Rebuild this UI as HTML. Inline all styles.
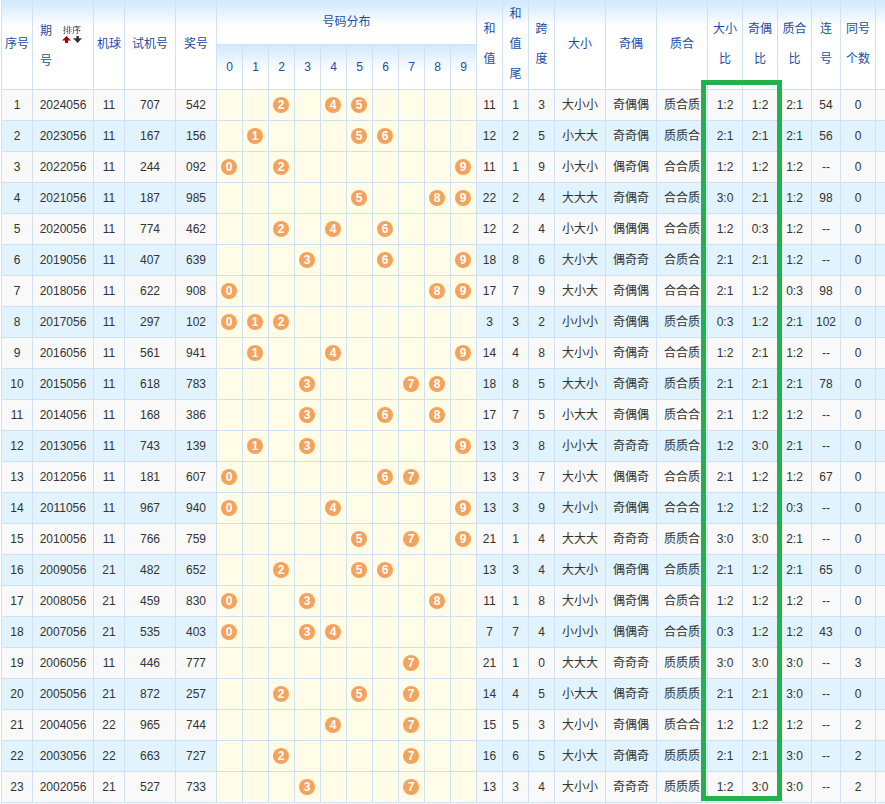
<!DOCTYPE html><html><head><meta charset="utf-8"><title>试机号</title><style>*{margin:0;padding:0;box-sizing:border-box}html,body{width:885px;height:804px;overflow:hidden;background:#fff}body{position:relative;font-family:"Liberation Sans","Noto Sans CJK SC",sans-serif;font-size:12px;color:#333}.c{position:absolute;text-align:center;white-space:nowrap}.h{position:absolute;text-align:center;color:#1a4ea6;line-height:30px;white-space:nowrap}.bg{position:absolute}.l{position:absolute;background:#cfe1f3}.g{position:absolute;background:linear-gradient(#d4eafd 0,#d4eafd 2px,#fff 27px,#fff)}.b{position:absolute;width:16px;height:16px;border-radius:8px;background:#f4a25c;color:#fff;font-weight:bold;text-align:center;line-height:16px;font-size:12px}</style></head><body><div class="g" style="left:2px;top:0;width:30px;height:89px"></div><div class="g" style="left:33px;top:0;width:60px;height:89px"></div><div class="g" style="left:94px;top:0;width:30px;height:89px"></div><div class="g" style="left:125px;top:0;width:50px;height:89px"></div><div class="g" style="left:176px;top:0;width:40px;height:89px"></div><div class="g" style="left:477px;top:0;width:25px;height:89px"></div><div class="g" style="left:503px;top:0;width:25px;height:89px"></div><div class="g" style="left:529px;top:0;width:25px;height:89px"></div><div class="g" style="left:555px;top:0;width:50px;height:89px"></div><div class="g" style="left:606px;top:0;width:50px;height:89px"></div><div class="g" style="left:657px;top:0;width:50px;height:89px"></div><div class="g" style="left:708px;top:0;width:34px;height:89px"></div><div class="g" style="left:743px;top:0;width:34px;height:89px"></div><div class="g" style="left:778px;top:0;width:33px;height:89px"></div><div class="g" style="left:812px;top:0;width:28px;height:89px"></div><div class="g" style="left:841px;top:0;width:34px;height:89px"></div><div class="g" style="left:876px;top:0;width:44px;height:89px"></div><div class="g" style="left:217px;top:0;width:259px;height:44px"></div><div class="g" style="left:217px;top:45px;width:25px;height:44px"></div><div class="g" style="left:243px;top:45px;width:25px;height:44px"></div><div class="g" style="left:269px;top:45px;width:25px;height:44px"></div><div class="g" style="left:295px;top:45px;width:25px;height:44px"></div><div class="g" style="left:321px;top:45px;width:25px;height:44px"></div><div class="g" style="left:347px;top:45px;width:25px;height:44px"></div><div class="g" style="left:373px;top:45px;width:25px;height:44px"></div><div class="g" style="left:399px;top:45px;width:25px;height:44px"></div><div class="g" style="left:425px;top:45px;width:25px;height:44px"></div><div class="g" style="left:451px;top:45px;width:25px;height:44px"></div><div class="bg" style="left:2px;top:90px;width:883px;height:30px;background:#f9f9f9"></div><div class="bg" style="left:217px;top:90px;width:259px;height:30px;background:#fffce8"></div><div class="bg" style="left:2px;top:121px;width:883px;height:30px;background:#e1f3fe"></div><div class="bg" style="left:217px;top:121px;width:259px;height:30px;background:#fffce8"></div><div class="bg" style="left:2px;top:152px;width:883px;height:30px;background:#f9f9f9"></div><div class="bg" style="left:217px;top:152px;width:259px;height:30px;background:#fffce8"></div><div class="bg" style="left:2px;top:183px;width:883px;height:30px;background:#e1f3fe"></div><div class="bg" style="left:217px;top:183px;width:259px;height:30px;background:#fffce8"></div><div class="bg" style="left:2px;top:214px;width:883px;height:30px;background:#f9f9f9"></div><div class="bg" style="left:217px;top:214px;width:259px;height:30px;background:#fffce8"></div><div class="bg" style="left:2px;top:245px;width:883px;height:30px;background:#e1f3fe"></div><div class="bg" style="left:217px;top:245px;width:259px;height:30px;background:#fffce8"></div><div class="bg" style="left:2px;top:276px;width:883px;height:30px;background:#f9f9f9"></div><div class="bg" style="left:217px;top:276px;width:259px;height:30px;background:#fffce8"></div><div class="bg" style="left:2px;top:307px;width:883px;height:30px;background:#e1f3fe"></div><div class="bg" style="left:217px;top:307px;width:259px;height:30px;background:#fffce8"></div><div class="bg" style="left:2px;top:338px;width:883px;height:30px;background:#f9f9f9"></div><div class="bg" style="left:217px;top:338px;width:259px;height:30px;background:#fffce8"></div><div class="bg" style="left:2px;top:369px;width:883px;height:30px;background:#e1f3fe"></div><div class="bg" style="left:217px;top:369px;width:259px;height:30px;background:#fffce8"></div><div class="bg" style="left:2px;top:400px;width:883px;height:30px;background:#f9f9f9"></div><div class="bg" style="left:217px;top:400px;width:259px;height:30px;background:#fffce8"></div><div class="bg" style="left:2px;top:431px;width:883px;height:30px;background:#e1f3fe"></div><div class="bg" style="left:217px;top:431px;width:259px;height:30px;background:#fffce8"></div><div class="bg" style="left:2px;top:462px;width:883px;height:30px;background:#f9f9f9"></div><div class="bg" style="left:217px;top:462px;width:259px;height:30px;background:#fffce8"></div><div class="bg" style="left:2px;top:493px;width:883px;height:30px;background:#e1f3fe"></div><div class="bg" style="left:217px;top:493px;width:259px;height:30px;background:#fffce8"></div><div class="bg" style="left:2px;top:524px;width:883px;height:30px;background:#f9f9f9"></div><div class="bg" style="left:217px;top:524px;width:259px;height:30px;background:#fffce8"></div><div class="bg" style="left:2px;top:555px;width:883px;height:30px;background:#e1f3fe"></div><div class="bg" style="left:217px;top:555px;width:259px;height:30px;background:#fffce8"></div><div class="bg" style="left:2px;top:586px;width:883px;height:30px;background:#f9f9f9"></div><div class="bg" style="left:217px;top:586px;width:259px;height:30px;background:#fffce8"></div><div class="bg" style="left:2px;top:617px;width:883px;height:30px;background:#e1f3fe"></div><div class="bg" style="left:217px;top:617px;width:259px;height:30px;background:#fffce8"></div><div class="bg" style="left:2px;top:648px;width:883px;height:30px;background:#f9f9f9"></div><div class="bg" style="left:217px;top:648px;width:259px;height:30px;background:#fffce8"></div><div class="bg" style="left:2px;top:679px;width:883px;height:30px;background:#e1f3fe"></div><div class="bg" style="left:217px;top:679px;width:259px;height:30px;background:#fffce8"></div><div class="bg" style="left:2px;top:710px;width:883px;height:30px;background:#f9f9f9"></div><div class="bg" style="left:217px;top:710px;width:259px;height:30px;background:#fffce8"></div><div class="bg" style="left:2px;top:741px;width:883px;height:30px;background:#e1f3fe"></div><div class="bg" style="left:217px;top:741px;width:259px;height:30px;background:#fffce8"></div><div class="bg" style="left:2px;top:772px;width:883px;height:30px;background:#f9f9f9"></div><div class="bg" style="left:217px;top:772px;width:259px;height:30px;background:#fffce8"></div><div class="bg" style="left:2px;top:803px;width:883px;height:30px;background:#fafafa"></div><div class="l" style="left:1px;top:0px;width:1px;height:804px"></div><div class="l" style="left:32px;top:0px;width:1px;height:803px"></div><div class="l" style="left:93px;top:0px;width:1px;height:803px"></div><div class="l" style="left:124px;top:0px;width:1px;height:803px"></div><div class="l" style="left:175px;top:0px;width:1px;height:803px"></div><div class="l" style="left:216px;top:0px;width:1px;height:803px"></div><div class="l" style="left:242px;top:44px;width:1px;height:759px"></div><div class="l" style="left:268px;top:44px;width:1px;height:759px"></div><div class="l" style="left:294px;top:44px;width:1px;height:759px"></div><div class="l" style="left:320px;top:44px;width:1px;height:759px"></div><div class="l" style="left:346px;top:44px;width:1px;height:759px"></div><div class="l" style="left:372px;top:44px;width:1px;height:759px"></div><div class="l" style="left:398px;top:44px;width:1px;height:759px"></div><div class="l" style="left:424px;top:44px;width:1px;height:759px"></div><div class="l" style="left:450px;top:44px;width:1px;height:759px"></div><div class="l" style="left:476px;top:0px;width:1px;height:803px"></div><div class="l" style="left:502px;top:0px;width:1px;height:803px"></div><div class="l" style="left:528px;top:0px;width:1px;height:803px"></div><div class="l" style="left:554px;top:0px;width:1px;height:803px"></div><div class="l" style="left:605px;top:0px;width:1px;height:803px"></div><div class="l" style="left:656px;top:0px;width:1px;height:803px"></div><div class="l" style="left:707px;top:0px;width:1px;height:803px"></div><div class="l" style="left:742px;top:0px;width:1px;height:803px"></div><div class="l" style="left:777px;top:0px;width:1px;height:803px"></div><div class="l" style="left:811px;top:0px;width:1px;height:803px"></div><div class="l" style="left:840px;top:0px;width:1px;height:803px"></div><div class="l" style="left:875px;top:0px;width:1px;height:803px"></div><div class="l" style="left:216px;top:44px;width:260px;height:1px"></div><div class="l" style="left:1px;top:89px;width:885px;height:1px"></div><div class="l" style="left:1px;top:120px;width:885px;height:1px"></div><div class="l" style="left:1px;top:151px;width:885px;height:1px"></div><div class="l" style="left:1px;top:182px;width:885px;height:1px"></div><div class="l" style="left:1px;top:213px;width:885px;height:1px"></div><div class="l" style="left:1px;top:244px;width:885px;height:1px"></div><div class="l" style="left:1px;top:275px;width:885px;height:1px"></div><div class="l" style="left:1px;top:306px;width:885px;height:1px"></div><div class="l" style="left:1px;top:337px;width:885px;height:1px"></div><div class="l" style="left:1px;top:368px;width:885px;height:1px"></div><div class="l" style="left:1px;top:399px;width:885px;height:1px"></div><div class="l" style="left:1px;top:430px;width:885px;height:1px"></div><div class="l" style="left:1px;top:461px;width:885px;height:1px"></div><div class="l" style="left:1px;top:492px;width:885px;height:1px"></div><div class="l" style="left:1px;top:523px;width:885px;height:1px"></div><div class="l" style="left:1px;top:554px;width:885px;height:1px"></div><div class="l" style="left:1px;top:585px;width:885px;height:1px"></div><div class="l" style="left:1px;top:616px;width:885px;height:1px"></div><div class="l" style="left:1px;top:647px;width:885px;height:1px"></div><div class="l" style="left:1px;top:678px;width:885px;height:1px"></div><div class="l" style="left:1px;top:709px;width:885px;height:1px"></div><div class="l" style="left:1px;top:740px;width:885px;height:1px"></div><div class="l" style="left:1px;top:771px;width:885px;height:1px"></div><div class="l" style="left:1px;top:802px;width:885px;height:1px"></div><div class="h" style="left:2px;top:29px;width:30px">序号</div><div class="h" style="left:40px;top:15.5px;width:14px;text-align:left">期<br>号</div><div style="position:absolute;left:62px;top:25px;width:20px;height:11px;background:#fff;font-family:'WenQuanYi Zen Hei',sans-serif;font-size:9px;line-height:11px;color:#333;text-align:center">排序</div><svg style="position:absolute;left:61px;top:35px" width="22" height="9" viewBox="0 0 22 9"><path d="M5.5 0.9 L10 5.5 L7 5.5 L7 7.9 L4 7.9 L4 5.5 L1 5.5 Z" fill="#b30000"/><path d="M15.4 1 L17.9 1 L17.9 3.2 L21 3.2 L16.6 7.9 L12 3.2 L15.4 3.2 Z" fill="#333"/></svg><div class="h" style="left:94px;top:29px;width:30px">机球</div><div class="h" style="left:125px;top:29px;width:50px">试机号</div><div class="h" style="left:176px;top:29px;width:40px">奖号</div><div class="h" style="left:217px;top:7px;width:259px">号码分布</div><div class="h" style="left:217px;top:52px;width:25px">0</div><div class="h" style="left:243px;top:52px;width:25px">1</div><div class="h" style="left:269px;top:52px;width:25px">2</div><div class="h" style="left:295px;top:52px;width:25px">3</div><div class="h" style="left:321px;top:52px;width:25px">4</div><div class="h" style="left:347px;top:52px;width:25px">5</div><div class="h" style="left:373px;top:52px;width:25px">6</div><div class="h" style="left:399px;top:52px;width:25px">7</div><div class="h" style="left:425px;top:52px;width:25px">8</div><div class="h" style="left:451px;top:52px;width:25px">9</div><div class="h" style="left:477px;top:14px;width:25px">和<br>值</div><div class="h" style="left:503px;top:-1px;width:25px">和<br>值<br>尾</div><div class="h" style="left:529px;top:14px;width:25px">跨<br>度</div><div class="h" style="left:555px;top:29px;width:50px">大小</div><div class="h" style="left:606px;top:29px;width:50px">奇偶</div><div class="h" style="left:657px;top:29px;width:50px">质合</div><div class="h" style="left:708px;top:14px;width:34px">大小<br>比</div><div class="h" style="left:743px;top:14px;width:34px">奇偶<br>比</div><div class="h" style="left:778px;top:14px;width:33px">质合<br>比</div><div class="h" style="left:812px;top:14px;width:28px">连<br>号</div><div class="h" style="left:841px;top:14px;width:34px">同号<br>个数</div><div class="c" style="left:2px;top:90px;width:30px;line-height:30px">1</div><div class="c" style="left:33px;top:90px;width:60px;line-height:30px">2024056</div><div class="c" style="left:94px;top:90px;width:30px;line-height:30px">11</div><div class="c" style="left:125px;top:90px;width:50px;line-height:30px">707</div><div class="c" style="left:176px;top:90px;width:40px;line-height:30px">542</div><div class="c" style="left:477px;top:90px;width:25px;line-height:30px">11</div><div class="c" style="left:503px;top:90px;width:25px;line-height:30px">1</div><div class="c" style="left:529px;top:90px;width:25px;line-height:30px">3</div><div class="c" style="left:555px;top:90px;width:50px;line-height:30px">大小小</div><div class="c" style="left:606px;top:90px;width:50px;line-height:30px">奇偶偶</div><div class="c" style="left:657px;top:90px;width:50px;line-height:30px">质合质</div><div class="c" style="left:708px;top:90px;width:34px;line-height:30px">1:2</div><div class="c" style="left:743px;top:90px;width:34px;line-height:30px">1:2</div><div class="c" style="left:778px;top:90px;width:33px;line-height:30px">2:1</div><div class="c" style="left:812px;top:90px;width:28px;line-height:30px">54</div><div class="c" style="left:841px;top:90px;width:34px;line-height:30px">0</div><div class="b" style="left:273px;top:97px">2</div><div class="b" style="left:325px;top:97px">4</div><div class="b" style="left:351px;top:97px">5</div><div class="c" style="left:2px;top:121px;width:30px;line-height:30px">2</div><div class="c" style="left:33px;top:121px;width:60px;line-height:30px">2023056</div><div class="c" style="left:94px;top:121px;width:30px;line-height:30px">11</div><div class="c" style="left:125px;top:121px;width:50px;line-height:30px">167</div><div class="c" style="left:176px;top:121px;width:40px;line-height:30px">156</div><div class="c" style="left:477px;top:121px;width:25px;line-height:30px">12</div><div class="c" style="left:503px;top:121px;width:25px;line-height:30px">2</div><div class="c" style="left:529px;top:121px;width:25px;line-height:30px">5</div><div class="c" style="left:555px;top:121px;width:50px;line-height:30px">小大大</div><div class="c" style="left:606px;top:121px;width:50px;line-height:30px">奇奇偶</div><div class="c" style="left:657px;top:121px;width:50px;line-height:30px">质质合</div><div class="c" style="left:708px;top:121px;width:34px;line-height:30px">2:1</div><div class="c" style="left:743px;top:121px;width:34px;line-height:30px">2:1</div><div class="c" style="left:778px;top:121px;width:33px;line-height:30px">2:1</div><div class="c" style="left:812px;top:121px;width:28px;line-height:30px">56</div><div class="c" style="left:841px;top:121px;width:34px;line-height:30px">0</div><div class="b" style="left:247px;top:128px">1</div><div class="b" style="left:351px;top:128px">5</div><div class="b" style="left:377px;top:128px">6</div><div class="c" style="left:2px;top:152px;width:30px;line-height:30px">3</div><div class="c" style="left:33px;top:152px;width:60px;line-height:30px">2022056</div><div class="c" style="left:94px;top:152px;width:30px;line-height:30px">11</div><div class="c" style="left:125px;top:152px;width:50px;line-height:30px">244</div><div class="c" style="left:176px;top:152px;width:40px;line-height:30px">092</div><div class="c" style="left:477px;top:152px;width:25px;line-height:30px">11</div><div class="c" style="left:503px;top:152px;width:25px;line-height:30px">1</div><div class="c" style="left:529px;top:152px;width:25px;line-height:30px">9</div><div class="c" style="left:555px;top:152px;width:50px;line-height:30px">小大小</div><div class="c" style="left:606px;top:152px;width:50px;line-height:30px">偶奇偶</div><div class="c" style="left:657px;top:152px;width:50px;line-height:30px">合合质</div><div class="c" style="left:708px;top:152px;width:34px;line-height:30px">1:2</div><div class="c" style="left:743px;top:152px;width:34px;line-height:30px">1:2</div><div class="c" style="left:778px;top:152px;width:33px;line-height:30px">1:2</div><div class="c" style="left:812px;top:152px;width:28px;line-height:30px">--</div><div class="c" style="left:841px;top:152px;width:34px;line-height:30px">0</div><div class="b" style="left:221px;top:159px">0</div><div class="b" style="left:273px;top:159px">2</div><div class="b" style="left:455px;top:159px">9</div><div class="c" style="left:2px;top:183px;width:30px;line-height:30px">4</div><div class="c" style="left:33px;top:183px;width:60px;line-height:30px">2021056</div><div class="c" style="left:94px;top:183px;width:30px;line-height:30px">11</div><div class="c" style="left:125px;top:183px;width:50px;line-height:30px">187</div><div class="c" style="left:176px;top:183px;width:40px;line-height:30px">985</div><div class="c" style="left:477px;top:183px;width:25px;line-height:30px">22</div><div class="c" style="left:503px;top:183px;width:25px;line-height:30px">2</div><div class="c" style="left:529px;top:183px;width:25px;line-height:30px">4</div><div class="c" style="left:555px;top:183px;width:50px;line-height:30px">大大大</div><div class="c" style="left:606px;top:183px;width:50px;line-height:30px">奇偶奇</div><div class="c" style="left:657px;top:183px;width:50px;line-height:30px">合合质</div><div class="c" style="left:708px;top:183px;width:34px;line-height:30px">3:0</div><div class="c" style="left:743px;top:183px;width:34px;line-height:30px">2:1</div><div class="c" style="left:778px;top:183px;width:33px;line-height:30px">1:2</div><div class="c" style="left:812px;top:183px;width:28px;line-height:30px">98</div><div class="c" style="left:841px;top:183px;width:34px;line-height:30px">0</div><div class="b" style="left:351px;top:190px">5</div><div class="b" style="left:429px;top:190px">8</div><div class="b" style="left:455px;top:190px">9</div><div class="c" style="left:2px;top:214px;width:30px;line-height:30px">5</div><div class="c" style="left:33px;top:214px;width:60px;line-height:30px">2020056</div><div class="c" style="left:94px;top:214px;width:30px;line-height:30px">11</div><div class="c" style="left:125px;top:214px;width:50px;line-height:30px">774</div><div class="c" style="left:176px;top:214px;width:40px;line-height:30px">462</div><div class="c" style="left:477px;top:214px;width:25px;line-height:30px">12</div><div class="c" style="left:503px;top:214px;width:25px;line-height:30px">2</div><div class="c" style="left:529px;top:214px;width:25px;line-height:30px">4</div><div class="c" style="left:555px;top:214px;width:50px;line-height:30px">小大小</div><div class="c" style="left:606px;top:214px;width:50px;line-height:30px">偶偶偶</div><div class="c" style="left:657px;top:214px;width:50px;line-height:30px">合合质</div><div class="c" style="left:708px;top:214px;width:34px;line-height:30px">1:2</div><div class="c" style="left:743px;top:214px;width:34px;line-height:30px">0:3</div><div class="c" style="left:778px;top:214px;width:33px;line-height:30px">1:2</div><div class="c" style="left:812px;top:214px;width:28px;line-height:30px">--</div><div class="c" style="left:841px;top:214px;width:34px;line-height:30px">0</div><div class="b" style="left:273px;top:221px">2</div><div class="b" style="left:325px;top:221px">4</div><div class="b" style="left:377px;top:221px">6</div><div class="c" style="left:2px;top:245px;width:30px;line-height:30px">6</div><div class="c" style="left:33px;top:245px;width:60px;line-height:30px">2019056</div><div class="c" style="left:94px;top:245px;width:30px;line-height:30px">11</div><div class="c" style="left:125px;top:245px;width:50px;line-height:30px">407</div><div class="c" style="left:176px;top:245px;width:40px;line-height:30px">639</div><div class="c" style="left:477px;top:245px;width:25px;line-height:30px">18</div><div class="c" style="left:503px;top:245px;width:25px;line-height:30px">8</div><div class="c" style="left:529px;top:245px;width:25px;line-height:30px">6</div><div class="c" style="left:555px;top:245px;width:50px;line-height:30px">大小大</div><div class="c" style="left:606px;top:245px;width:50px;line-height:30px">偶奇奇</div><div class="c" style="left:657px;top:245px;width:50px;line-height:30px">合质合</div><div class="c" style="left:708px;top:245px;width:34px;line-height:30px">2:1</div><div class="c" style="left:743px;top:245px;width:34px;line-height:30px">2:1</div><div class="c" style="left:778px;top:245px;width:33px;line-height:30px">1:2</div><div class="c" style="left:812px;top:245px;width:28px;line-height:30px">--</div><div class="c" style="left:841px;top:245px;width:34px;line-height:30px">0</div><div class="b" style="left:299px;top:252px">3</div><div class="b" style="left:377px;top:252px">6</div><div class="b" style="left:455px;top:252px">9</div><div class="c" style="left:2px;top:276px;width:30px;line-height:30px">7</div><div class="c" style="left:33px;top:276px;width:60px;line-height:30px">2018056</div><div class="c" style="left:94px;top:276px;width:30px;line-height:30px">11</div><div class="c" style="left:125px;top:276px;width:50px;line-height:30px">622</div><div class="c" style="left:176px;top:276px;width:40px;line-height:30px">908</div><div class="c" style="left:477px;top:276px;width:25px;line-height:30px">17</div><div class="c" style="left:503px;top:276px;width:25px;line-height:30px">7</div><div class="c" style="left:529px;top:276px;width:25px;line-height:30px">9</div><div class="c" style="left:555px;top:276px;width:50px;line-height:30px">大小大</div><div class="c" style="left:606px;top:276px;width:50px;line-height:30px">奇偶偶</div><div class="c" style="left:657px;top:276px;width:50px;line-height:30px">合合合</div><div class="c" style="left:708px;top:276px;width:34px;line-height:30px">2:1</div><div class="c" style="left:743px;top:276px;width:34px;line-height:30px">1:2</div><div class="c" style="left:778px;top:276px;width:33px;line-height:30px">0:3</div><div class="c" style="left:812px;top:276px;width:28px;line-height:30px">98</div><div class="c" style="left:841px;top:276px;width:34px;line-height:30px">0</div><div class="b" style="left:221px;top:283px">0</div><div class="b" style="left:429px;top:283px">8</div><div class="b" style="left:455px;top:283px">9</div><div class="c" style="left:2px;top:307px;width:30px;line-height:30px">8</div><div class="c" style="left:33px;top:307px;width:60px;line-height:30px">2017056</div><div class="c" style="left:94px;top:307px;width:30px;line-height:30px">11</div><div class="c" style="left:125px;top:307px;width:50px;line-height:30px">297</div><div class="c" style="left:176px;top:307px;width:40px;line-height:30px">102</div><div class="c" style="left:477px;top:307px;width:25px;line-height:30px">3</div><div class="c" style="left:503px;top:307px;width:25px;line-height:30px">3</div><div class="c" style="left:529px;top:307px;width:25px;line-height:30px">2</div><div class="c" style="left:555px;top:307px;width:50px;line-height:30px">小小小</div><div class="c" style="left:606px;top:307px;width:50px;line-height:30px">奇偶偶</div><div class="c" style="left:657px;top:307px;width:50px;line-height:30px">质合质</div><div class="c" style="left:708px;top:307px;width:34px;line-height:30px">0:3</div><div class="c" style="left:743px;top:307px;width:34px;line-height:30px">1:2</div><div class="c" style="left:778px;top:307px;width:33px;line-height:30px">2:1</div><div class="c" style="left:812px;top:307px;width:28px;line-height:30px">102</div><div class="c" style="left:841px;top:307px;width:34px;line-height:30px">0</div><div class="b" style="left:221px;top:314px">0</div><div class="b" style="left:247px;top:314px">1</div><div class="b" style="left:273px;top:314px">2</div><div class="c" style="left:2px;top:338px;width:30px;line-height:30px">9</div><div class="c" style="left:33px;top:338px;width:60px;line-height:30px">2016056</div><div class="c" style="left:94px;top:338px;width:30px;line-height:30px">11</div><div class="c" style="left:125px;top:338px;width:50px;line-height:30px">561</div><div class="c" style="left:176px;top:338px;width:40px;line-height:30px">941</div><div class="c" style="left:477px;top:338px;width:25px;line-height:30px">14</div><div class="c" style="left:503px;top:338px;width:25px;line-height:30px">4</div><div class="c" style="left:529px;top:338px;width:25px;line-height:30px">8</div><div class="c" style="left:555px;top:338px;width:50px;line-height:30px">大小小</div><div class="c" style="left:606px;top:338px;width:50px;line-height:30px">奇偶奇</div><div class="c" style="left:657px;top:338px;width:50px;line-height:30px">合合质</div><div class="c" style="left:708px;top:338px;width:34px;line-height:30px">1:2</div><div class="c" style="left:743px;top:338px;width:34px;line-height:30px">2:1</div><div class="c" style="left:778px;top:338px;width:33px;line-height:30px">1:2</div><div class="c" style="left:812px;top:338px;width:28px;line-height:30px">--</div><div class="c" style="left:841px;top:338px;width:34px;line-height:30px">0</div><div class="b" style="left:247px;top:345px">1</div><div class="b" style="left:325px;top:345px">4</div><div class="b" style="left:455px;top:345px">9</div><div class="c" style="left:2px;top:369px;width:30px;line-height:30px">10</div><div class="c" style="left:33px;top:369px;width:60px;line-height:30px">2015056</div><div class="c" style="left:94px;top:369px;width:30px;line-height:30px">11</div><div class="c" style="left:125px;top:369px;width:50px;line-height:30px">618</div><div class="c" style="left:176px;top:369px;width:40px;line-height:30px">783</div><div class="c" style="left:477px;top:369px;width:25px;line-height:30px">18</div><div class="c" style="left:503px;top:369px;width:25px;line-height:30px">8</div><div class="c" style="left:529px;top:369px;width:25px;line-height:30px">5</div><div class="c" style="left:555px;top:369px;width:50px;line-height:30px">大大小</div><div class="c" style="left:606px;top:369px;width:50px;line-height:30px">奇偶奇</div><div class="c" style="left:657px;top:369px;width:50px;line-height:30px">质合质</div><div class="c" style="left:708px;top:369px;width:34px;line-height:30px">2:1</div><div class="c" style="left:743px;top:369px;width:34px;line-height:30px">2:1</div><div class="c" style="left:778px;top:369px;width:33px;line-height:30px">2:1</div><div class="c" style="left:812px;top:369px;width:28px;line-height:30px">78</div><div class="c" style="left:841px;top:369px;width:34px;line-height:30px">0</div><div class="b" style="left:299px;top:376px">3</div><div class="b" style="left:403px;top:376px">7</div><div class="b" style="left:429px;top:376px">8</div><div class="c" style="left:2px;top:400px;width:30px;line-height:30px">11</div><div class="c" style="left:33px;top:400px;width:60px;line-height:30px">2014056</div><div class="c" style="left:94px;top:400px;width:30px;line-height:30px">11</div><div class="c" style="left:125px;top:400px;width:50px;line-height:30px">168</div><div class="c" style="left:176px;top:400px;width:40px;line-height:30px">386</div><div class="c" style="left:477px;top:400px;width:25px;line-height:30px">17</div><div class="c" style="left:503px;top:400px;width:25px;line-height:30px">7</div><div class="c" style="left:529px;top:400px;width:25px;line-height:30px">5</div><div class="c" style="left:555px;top:400px;width:50px;line-height:30px">小大大</div><div class="c" style="left:606px;top:400px;width:50px;line-height:30px">奇偶偶</div><div class="c" style="left:657px;top:400px;width:50px;line-height:30px">质合合</div><div class="c" style="left:708px;top:400px;width:34px;line-height:30px">2:1</div><div class="c" style="left:743px;top:400px;width:34px;line-height:30px">1:2</div><div class="c" style="left:778px;top:400px;width:33px;line-height:30px">1:2</div><div class="c" style="left:812px;top:400px;width:28px;line-height:30px">--</div><div class="c" style="left:841px;top:400px;width:34px;line-height:30px">0</div><div class="b" style="left:299px;top:407px">3</div><div class="b" style="left:377px;top:407px">6</div><div class="b" style="left:429px;top:407px">8</div><div class="c" style="left:2px;top:431px;width:30px;line-height:30px">12</div><div class="c" style="left:33px;top:431px;width:60px;line-height:30px">2013056</div><div class="c" style="left:94px;top:431px;width:30px;line-height:30px">11</div><div class="c" style="left:125px;top:431px;width:50px;line-height:30px">743</div><div class="c" style="left:176px;top:431px;width:40px;line-height:30px">139</div><div class="c" style="left:477px;top:431px;width:25px;line-height:30px">13</div><div class="c" style="left:503px;top:431px;width:25px;line-height:30px">3</div><div class="c" style="left:529px;top:431px;width:25px;line-height:30px">8</div><div class="c" style="left:555px;top:431px;width:50px;line-height:30px">小小大</div><div class="c" style="left:606px;top:431px;width:50px;line-height:30px">奇奇奇</div><div class="c" style="left:657px;top:431px;width:50px;line-height:30px">质质合</div><div class="c" style="left:708px;top:431px;width:34px;line-height:30px">1:2</div><div class="c" style="left:743px;top:431px;width:34px;line-height:30px">3:0</div><div class="c" style="left:778px;top:431px;width:33px;line-height:30px">2:1</div><div class="c" style="left:812px;top:431px;width:28px;line-height:30px">--</div><div class="c" style="left:841px;top:431px;width:34px;line-height:30px">0</div><div class="b" style="left:247px;top:438px">1</div><div class="b" style="left:299px;top:438px">3</div><div class="b" style="left:455px;top:438px">9</div><div class="c" style="left:2px;top:462px;width:30px;line-height:30px">13</div><div class="c" style="left:33px;top:462px;width:60px;line-height:30px">2012056</div><div class="c" style="left:94px;top:462px;width:30px;line-height:30px">11</div><div class="c" style="left:125px;top:462px;width:50px;line-height:30px">181</div><div class="c" style="left:176px;top:462px;width:40px;line-height:30px">607</div><div class="c" style="left:477px;top:462px;width:25px;line-height:30px">13</div><div class="c" style="left:503px;top:462px;width:25px;line-height:30px">3</div><div class="c" style="left:529px;top:462px;width:25px;line-height:30px">7</div><div class="c" style="left:555px;top:462px;width:50px;line-height:30px">大小大</div><div class="c" style="left:606px;top:462px;width:50px;line-height:30px">偶偶奇</div><div class="c" style="left:657px;top:462px;width:50px;line-height:30px">合合质</div><div class="c" style="left:708px;top:462px;width:34px;line-height:30px">2:1</div><div class="c" style="left:743px;top:462px;width:34px;line-height:30px">1:2</div><div class="c" style="left:778px;top:462px;width:33px;line-height:30px">1:2</div><div class="c" style="left:812px;top:462px;width:28px;line-height:30px">67</div><div class="c" style="left:841px;top:462px;width:34px;line-height:30px">0</div><div class="b" style="left:221px;top:469px">0</div><div class="b" style="left:377px;top:469px">6</div><div class="b" style="left:403px;top:469px">7</div><div class="c" style="left:2px;top:493px;width:30px;line-height:30px">14</div><div class="c" style="left:33px;top:493px;width:60px;line-height:30px">2011056</div><div class="c" style="left:94px;top:493px;width:30px;line-height:30px">11</div><div class="c" style="left:125px;top:493px;width:50px;line-height:30px">967</div><div class="c" style="left:176px;top:493px;width:40px;line-height:30px">940</div><div class="c" style="left:477px;top:493px;width:25px;line-height:30px">13</div><div class="c" style="left:503px;top:493px;width:25px;line-height:30px">3</div><div class="c" style="left:529px;top:493px;width:25px;line-height:30px">9</div><div class="c" style="left:555px;top:493px;width:50px;line-height:30px">大小小</div><div class="c" style="left:606px;top:493px;width:50px;line-height:30px">奇偶偶</div><div class="c" style="left:657px;top:493px;width:50px;line-height:30px">合合合</div><div class="c" style="left:708px;top:493px;width:34px;line-height:30px">1:2</div><div class="c" style="left:743px;top:493px;width:34px;line-height:30px">1:2</div><div class="c" style="left:778px;top:493px;width:33px;line-height:30px">0:3</div><div class="c" style="left:812px;top:493px;width:28px;line-height:30px">--</div><div class="c" style="left:841px;top:493px;width:34px;line-height:30px">0</div><div class="b" style="left:221px;top:500px">0</div><div class="b" style="left:325px;top:500px">4</div><div class="b" style="left:455px;top:500px">9</div><div class="c" style="left:2px;top:524px;width:30px;line-height:30px">15</div><div class="c" style="left:33px;top:524px;width:60px;line-height:30px">2010056</div><div class="c" style="left:94px;top:524px;width:30px;line-height:30px">11</div><div class="c" style="left:125px;top:524px;width:50px;line-height:30px">766</div><div class="c" style="left:176px;top:524px;width:40px;line-height:30px">759</div><div class="c" style="left:477px;top:524px;width:25px;line-height:30px">21</div><div class="c" style="left:503px;top:524px;width:25px;line-height:30px">1</div><div class="c" style="left:529px;top:524px;width:25px;line-height:30px">4</div><div class="c" style="left:555px;top:524px;width:50px;line-height:30px">大大大</div><div class="c" style="left:606px;top:524px;width:50px;line-height:30px">奇奇奇</div><div class="c" style="left:657px;top:524px;width:50px;line-height:30px">质质合</div><div class="c" style="left:708px;top:524px;width:34px;line-height:30px">3:0</div><div class="c" style="left:743px;top:524px;width:34px;line-height:30px">3:0</div><div class="c" style="left:778px;top:524px;width:33px;line-height:30px">2:1</div><div class="c" style="left:812px;top:524px;width:28px;line-height:30px">--</div><div class="c" style="left:841px;top:524px;width:34px;line-height:30px">0</div><div class="b" style="left:351px;top:531px">5</div><div class="b" style="left:403px;top:531px">7</div><div class="b" style="left:455px;top:531px">9</div><div class="c" style="left:2px;top:555px;width:30px;line-height:30px">16</div><div class="c" style="left:33px;top:555px;width:60px;line-height:30px">2009056</div><div class="c" style="left:94px;top:555px;width:30px;line-height:30px">21</div><div class="c" style="left:125px;top:555px;width:50px;line-height:30px">482</div><div class="c" style="left:176px;top:555px;width:40px;line-height:30px">652</div><div class="c" style="left:477px;top:555px;width:25px;line-height:30px">13</div><div class="c" style="left:503px;top:555px;width:25px;line-height:30px">3</div><div class="c" style="left:529px;top:555px;width:25px;line-height:30px">4</div><div class="c" style="left:555px;top:555px;width:50px;line-height:30px">大大小</div><div class="c" style="left:606px;top:555px;width:50px;line-height:30px">偶奇偶</div><div class="c" style="left:657px;top:555px;width:50px;line-height:30px">合质质</div><div class="c" style="left:708px;top:555px;width:34px;line-height:30px">2:1</div><div class="c" style="left:743px;top:555px;width:34px;line-height:30px">1:2</div><div class="c" style="left:778px;top:555px;width:33px;line-height:30px">2:1</div><div class="c" style="left:812px;top:555px;width:28px;line-height:30px">65</div><div class="c" style="left:841px;top:555px;width:34px;line-height:30px">0</div><div class="b" style="left:273px;top:562px">2</div><div class="b" style="left:351px;top:562px">5</div><div class="b" style="left:377px;top:562px">6</div><div class="c" style="left:2px;top:586px;width:30px;line-height:30px">17</div><div class="c" style="left:33px;top:586px;width:60px;line-height:30px">2008056</div><div class="c" style="left:94px;top:586px;width:30px;line-height:30px">21</div><div class="c" style="left:125px;top:586px;width:50px;line-height:30px">459</div><div class="c" style="left:176px;top:586px;width:40px;line-height:30px">830</div><div class="c" style="left:477px;top:586px;width:25px;line-height:30px">11</div><div class="c" style="left:503px;top:586px;width:25px;line-height:30px">1</div><div class="c" style="left:529px;top:586px;width:25px;line-height:30px">8</div><div class="c" style="left:555px;top:586px;width:50px;line-height:30px">大小小</div><div class="c" style="left:606px;top:586px;width:50px;line-height:30px">偶奇偶</div><div class="c" style="left:657px;top:586px;width:50px;line-height:30px">合质合</div><div class="c" style="left:708px;top:586px;width:34px;line-height:30px">1:2</div><div class="c" style="left:743px;top:586px;width:34px;line-height:30px">1:2</div><div class="c" style="left:778px;top:586px;width:33px;line-height:30px">1:2</div><div class="c" style="left:812px;top:586px;width:28px;line-height:30px">--</div><div class="c" style="left:841px;top:586px;width:34px;line-height:30px">0</div><div class="b" style="left:221px;top:593px">0</div><div class="b" style="left:299px;top:593px">3</div><div class="b" style="left:429px;top:593px">8</div><div class="c" style="left:2px;top:617px;width:30px;line-height:30px">18</div><div class="c" style="left:33px;top:617px;width:60px;line-height:30px">2007056</div><div class="c" style="left:94px;top:617px;width:30px;line-height:30px">21</div><div class="c" style="left:125px;top:617px;width:50px;line-height:30px">535</div><div class="c" style="left:176px;top:617px;width:40px;line-height:30px">403</div><div class="c" style="left:477px;top:617px;width:25px;line-height:30px">7</div><div class="c" style="left:503px;top:617px;width:25px;line-height:30px">7</div><div class="c" style="left:529px;top:617px;width:25px;line-height:30px">4</div><div class="c" style="left:555px;top:617px;width:50px;line-height:30px">小小小</div><div class="c" style="left:606px;top:617px;width:50px;line-height:30px">偶偶奇</div><div class="c" style="left:657px;top:617px;width:50px;line-height:30px">合合质</div><div class="c" style="left:708px;top:617px;width:34px;line-height:30px">0:3</div><div class="c" style="left:743px;top:617px;width:34px;line-height:30px">1:2</div><div class="c" style="left:778px;top:617px;width:33px;line-height:30px">1:2</div><div class="c" style="left:812px;top:617px;width:28px;line-height:30px">43</div><div class="c" style="left:841px;top:617px;width:34px;line-height:30px">0</div><div class="b" style="left:221px;top:624px">0</div><div class="b" style="left:299px;top:624px">3</div><div class="b" style="left:325px;top:624px">4</div><div class="c" style="left:2px;top:648px;width:30px;line-height:30px">19</div><div class="c" style="left:33px;top:648px;width:60px;line-height:30px">2006056</div><div class="c" style="left:94px;top:648px;width:30px;line-height:30px">11</div><div class="c" style="left:125px;top:648px;width:50px;line-height:30px">446</div><div class="c" style="left:176px;top:648px;width:40px;line-height:30px">777</div><div class="c" style="left:477px;top:648px;width:25px;line-height:30px">21</div><div class="c" style="left:503px;top:648px;width:25px;line-height:30px">1</div><div class="c" style="left:529px;top:648px;width:25px;line-height:30px">0</div><div class="c" style="left:555px;top:648px;width:50px;line-height:30px">大大大</div><div class="c" style="left:606px;top:648px;width:50px;line-height:30px">奇奇奇</div><div class="c" style="left:657px;top:648px;width:50px;line-height:30px">质质质</div><div class="c" style="left:708px;top:648px;width:34px;line-height:30px">3:0</div><div class="c" style="left:743px;top:648px;width:34px;line-height:30px">3:0</div><div class="c" style="left:778px;top:648px;width:33px;line-height:30px">3:0</div><div class="c" style="left:812px;top:648px;width:28px;line-height:30px">--</div><div class="c" style="left:841px;top:648px;width:34px;line-height:30px">3</div><div class="b" style="left:403px;top:655px">7</div><div class="c" style="left:2px;top:679px;width:30px;line-height:30px">20</div><div class="c" style="left:33px;top:679px;width:60px;line-height:30px">2005056</div><div class="c" style="left:94px;top:679px;width:30px;line-height:30px">21</div><div class="c" style="left:125px;top:679px;width:50px;line-height:30px">872</div><div class="c" style="left:176px;top:679px;width:40px;line-height:30px">257</div><div class="c" style="left:477px;top:679px;width:25px;line-height:30px">14</div><div class="c" style="left:503px;top:679px;width:25px;line-height:30px">4</div><div class="c" style="left:529px;top:679px;width:25px;line-height:30px">5</div><div class="c" style="left:555px;top:679px;width:50px;line-height:30px">小大大</div><div class="c" style="left:606px;top:679px;width:50px;line-height:30px">偶奇奇</div><div class="c" style="left:657px;top:679px;width:50px;line-height:30px">质质质</div><div class="c" style="left:708px;top:679px;width:34px;line-height:30px">2:1</div><div class="c" style="left:743px;top:679px;width:34px;line-height:30px">2:1</div><div class="c" style="left:778px;top:679px;width:33px;line-height:30px">3:0</div><div class="c" style="left:812px;top:679px;width:28px;line-height:30px">--</div><div class="c" style="left:841px;top:679px;width:34px;line-height:30px">0</div><div class="b" style="left:273px;top:686px">2</div><div class="b" style="left:351px;top:686px">5</div><div class="b" style="left:403px;top:686px">7</div><div class="c" style="left:2px;top:710px;width:30px;line-height:30px">21</div><div class="c" style="left:33px;top:710px;width:60px;line-height:30px">2004056</div><div class="c" style="left:94px;top:710px;width:30px;line-height:30px">22</div><div class="c" style="left:125px;top:710px;width:50px;line-height:30px">965</div><div class="c" style="left:176px;top:710px;width:40px;line-height:30px">744</div><div class="c" style="left:477px;top:710px;width:25px;line-height:30px">15</div><div class="c" style="left:503px;top:710px;width:25px;line-height:30px">5</div><div class="c" style="left:529px;top:710px;width:25px;line-height:30px">3</div><div class="c" style="left:555px;top:710px;width:50px;line-height:30px">大小小</div><div class="c" style="left:606px;top:710px;width:50px;line-height:30px">奇偶偶</div><div class="c" style="left:657px;top:710px;width:50px;line-height:30px">质合合</div><div class="c" style="left:708px;top:710px;width:34px;line-height:30px">1:2</div><div class="c" style="left:743px;top:710px;width:34px;line-height:30px">1:2</div><div class="c" style="left:778px;top:710px;width:33px;line-height:30px">1:2</div><div class="c" style="left:812px;top:710px;width:28px;line-height:30px">--</div><div class="c" style="left:841px;top:710px;width:34px;line-height:30px">2</div><div class="b" style="left:325px;top:717px">4</div><div class="b" style="left:403px;top:717px">7</div><div class="c" style="left:2px;top:741px;width:30px;line-height:30px">22</div><div class="c" style="left:33px;top:741px;width:60px;line-height:30px">2003056</div><div class="c" style="left:94px;top:741px;width:30px;line-height:30px">22</div><div class="c" style="left:125px;top:741px;width:50px;line-height:30px">663</div><div class="c" style="left:176px;top:741px;width:40px;line-height:30px">727</div><div class="c" style="left:477px;top:741px;width:25px;line-height:30px">16</div><div class="c" style="left:503px;top:741px;width:25px;line-height:30px">6</div><div class="c" style="left:529px;top:741px;width:25px;line-height:30px">5</div><div class="c" style="left:555px;top:741px;width:50px;line-height:30px">大小大</div><div class="c" style="left:606px;top:741px;width:50px;line-height:30px">奇偶奇</div><div class="c" style="left:657px;top:741px;width:50px;line-height:30px">质质质</div><div class="c" style="left:708px;top:741px;width:34px;line-height:30px">2:1</div><div class="c" style="left:743px;top:741px;width:34px;line-height:30px">2:1</div><div class="c" style="left:778px;top:741px;width:33px;line-height:30px">3:0</div><div class="c" style="left:812px;top:741px;width:28px;line-height:30px">--</div><div class="c" style="left:841px;top:741px;width:34px;line-height:30px">2</div><div class="b" style="left:273px;top:748px">2</div><div class="b" style="left:403px;top:748px">7</div><div class="c" style="left:2px;top:772px;width:30px;line-height:30px">23</div><div class="c" style="left:33px;top:772px;width:60px;line-height:30px">2002056</div><div class="c" style="left:94px;top:772px;width:30px;line-height:30px">21</div><div class="c" style="left:125px;top:772px;width:50px;line-height:30px">527</div><div class="c" style="left:176px;top:772px;width:40px;line-height:30px">733</div><div class="c" style="left:477px;top:772px;width:25px;line-height:30px">13</div><div class="c" style="left:503px;top:772px;width:25px;line-height:30px">3</div><div class="c" style="left:529px;top:772px;width:25px;line-height:30px">4</div><div class="c" style="left:555px;top:772px;width:50px;line-height:30px">大小小</div><div class="c" style="left:606px;top:772px;width:50px;line-height:30px">奇奇奇</div><div class="c" style="left:657px;top:772px;width:50px;line-height:30px">质质质</div><div class="c" style="left:708px;top:772px;width:34px;line-height:30px">1:2</div><div class="c" style="left:743px;top:772px;width:34px;line-height:30px">3:0</div><div class="c" style="left:778px;top:772px;width:33px;line-height:30px">3:0</div><div class="c" style="left:812px;top:772px;width:28px;line-height:30px">--</div><div class="c" style="left:841px;top:772px;width:34px;line-height:30px">2</div><div class="b" style="left:299px;top:779px">3</div><div class="b" style="left:403px;top:779px">7</div><div style="position:absolute;left:701px;top:80px;width:81px;height:721px;border:5px solid #22b14c"></div></body></html>
